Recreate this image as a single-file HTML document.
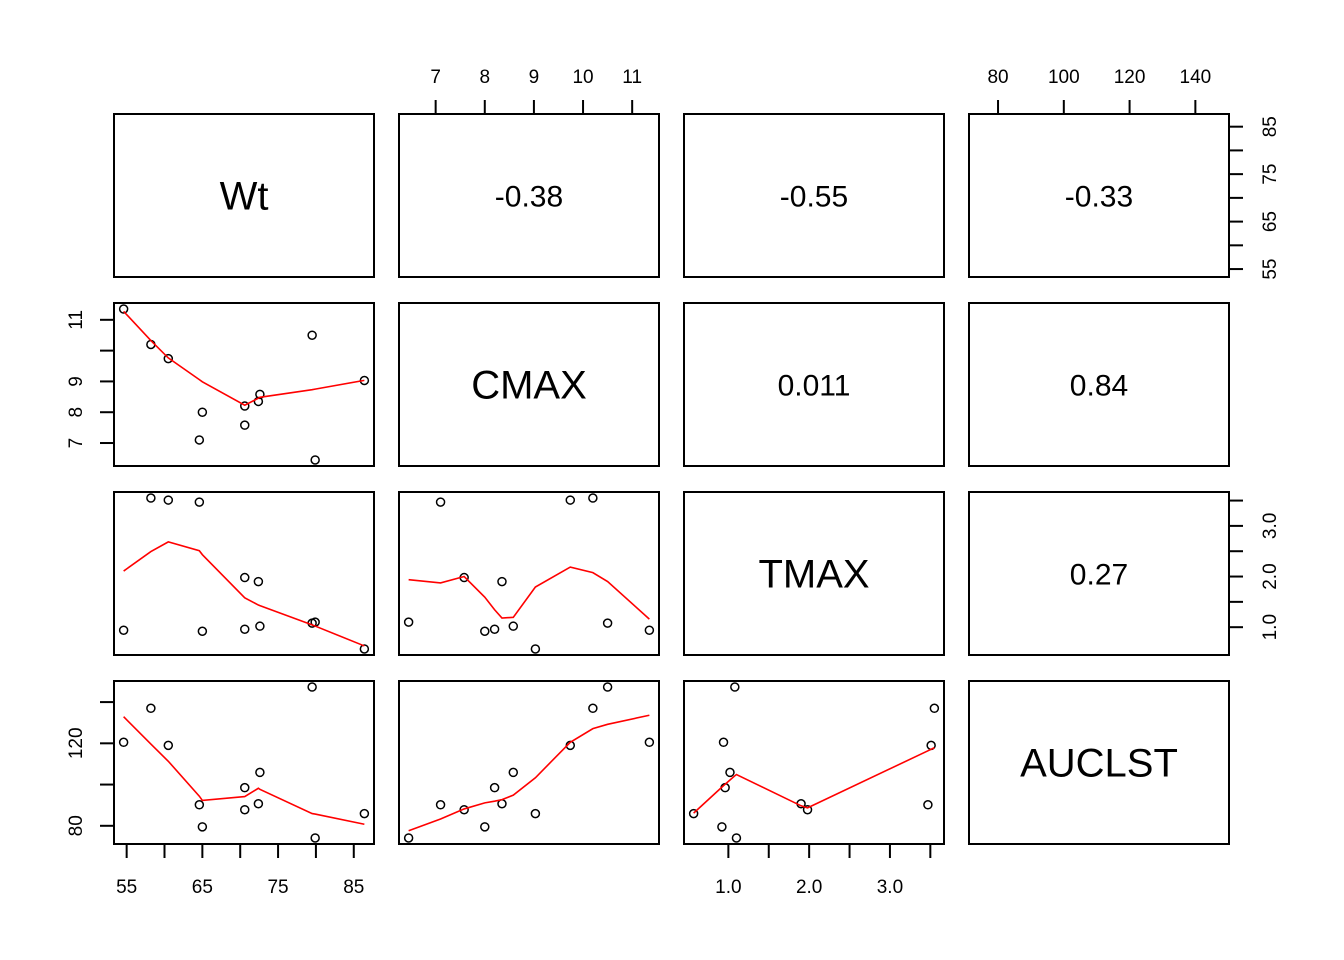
<!DOCTYPE html>
<html><head><meta charset="utf-8"><style>
html,body{margin:0;padding:0;background:#fff}
svg{display:block;font-family:"Liberation Sans",Arial,sans-serif}
</style></head><body>
<svg id="chart" width="1344" height="960" viewBox="0 0 1344 960" xmlns="http://www.w3.org/2000/svg"></svg>
<script>
const varNames = ["Wt","CMAX","TMAX","AUCLST"];
const wt   = [54.6, 58.2, 60.5, 64.6, 65.0, 70.6, 70.6, 72.4, 72.6, 79.5, 79.9, 86.4];
const cmax = [11.35,10.2, 9.74, 7.1,  8.0,  7.58, 8.2,  8.35, 8.58, 10.5, 6.45, 9.03];
const tmax = [0.94, 3.55, 3.51, 3.47, 0.92, 1.98, 0.96, 1.9,  1.02, 1.08, 1.1,  0.57];
const auc  = [120.5,137,  119,  90.2, 79.5, 87.8, 98.5, 90.7, 105.9,147.3,74.1, 85.9];
const corrLabels = [["","-0.38","-0.55","-0.33"],["","","0.011","0.84"],["","","","0.27"]];
const ticksWt = [55,60,65,70,75,80,85];
const ticksCmax = [7,8,9,10,11];
const ticksTmax = [1.0,1.5,2.0,2.5,3.0,3.5];
const ticksAuc = [80,100,120,140];
const labelsWt = ["55","65","75","85"];
const labelsCmax = ["7","8","9","10","11"];
const labelsCmaxLeft = ["7","8","9","11"];
const labelsTmax = ["1.0","2.0","3.0"];
const labelsAuc = ["80","100","120","140"];
const labelsAucLeft = ["80","120"];

const data=[wt,cmax,tmax,auc];
const ticks=[ticksWt,ticksCmax,ticksTmax,ticksAuc];
const colX=[114,399,684,969], rowY=[114,303,492,681], PW=260, PH=163;
const NS="http://www.w3.org/2000/svg";
const svg=document.getElementById('chart');
function mk(t,a,p){const e=document.createElementNS(NS,t);for(const k in a)e.setAttribute(k,a[k]);(p||svg).appendChild(e);return e;}
function rng(v){const mn=Math.min(...v),mx=Math.max(...v),r=mx-mn;return [mn-0.04*r,mx+0.04*r];}
const ranges=data.map(rng);
function sx(j,v){const [a,b]=ranges[j];return colX[j]+(v-a)/(b-a)*PW;}
function sy(i,v){const [a,b]=ranges[i];return rowY[i]+PH-(v-a)/(b-a)*PH;}

function lowess(x,y,f,iter){
  const n=x.length,idx=[...x.keys()].sort((a,b)=>x[a]-x[b]);
  const xs=idx.map(i=>x[i]),ys=idx.map(i=>y[i]);
  const ns=Math.max(Math.min(Math.round(f*n),n),2);
  let rw=new Array(n).fill(1),fit=new Array(n);
  for(let it=0;it<=iter;it++){
    for(let i=0;i<n;i++){
      const d=xs.map(v=>Math.abs(v-xs[i])).slice().sort((a,b)=>a-b);
      let h=Math.max(d[ns-1],1e-12);
      let sw=0,swx=0,w=[];
      for(let k=0;k<n;k++){const r=Math.abs(xs[k]-xs[i]);let wk=0;
        if(r<=0.999*h){wk=r<=0.001*h?1:Math.pow(1-Math.pow(r/h,3),3);} wk*=rw[k];w.push(wk);sw+=wk;}
      if(sw<=0){fit[i]=ys[i];continue;}
      for(let k=0;k<n;k++){w[k]/=sw;swx+=w[k]*xs[k];}
      let c=0;for(let k=0;k<n;k++)c+=w[k]*(xs[k]-swx)**2;
      let val=0;
      for(let k=0;k<n;k++){let wk=w[k];if(Math.sqrt(c)>0.001*(xs[n-1]-xs[0]))wk*=1+(xs[i]-swx)*(xs[k]-swx)/c;val+=wk*ys[k];}
      fit[i]=val;
    }
    if(it===iter)break;
    const res=ys.map((v,k)=>v-fit[k]),ar=res.map(Math.abs).sort((a,b)=>a-b);
    const m=(ar[Math.floor((n-1)/2)]+ar[Math.ceil((n-1)/2)])/2,cm=6*m;
    if(cm<1e-10)break;
    rw=res.map(r=>{const u=Math.abs(r)/cm;return u<1?(1-u*u)**2:0;});
  }
  return xs.map((v,k)=>[v,fit[k]]);
}

for(let i=0;i<4;i++)for(let j=0;j<4;j++){
  const g=mk('g',{});
  
  
  const x0=colX[j],y0=rowY[i],cx=x0+PW/2,cy=y0+PH/2;
  if(i===j){
    const t=mk('text',{x:cx,y:cy+14,'text-anchor':'middle','font-size':40},g);t.textContent=varNames[i];
    
    
  } else if(i<j){
    const t=mk('text',{x:cx,y:cy+11,'text-anchor':'middle','font-size':30},g);t.textContent=corrLabels[i][j];
    
    
  } else {
    const X=data[j],Y=data[i];
    for(let k=0;k<X.length;k++){
      const c=mk('circle',{cx:sx(j,X[k]),cy:sy(i,Y[k]),r:4,fill:'none',stroke:'#000','stroke-width':1.5},g);
      
      
    }
    const lw=lowess(X,Y,2/3,3);
    const pl=mk('polyline',{points:lw.map(p=>sx(j,p[0])+','+sy(i,p[1])).join(' '),fill:'none',stroke:'#f00','stroke-width':1.6},g);
    
    
  }
  const fr=mk('rect',{x:x0,y:y0,width:PW,height:PH,fill:'none',stroke:'#000','stroke-width':2},g);
  
  
}

function axisH(j,yLine,dir,labels){
  const g=mk('g',{});
  
  
  ticks[j].forEach(v=>mk('line',{x1:sx(j,v),x2:sx(j,v),y1:yLine,y2:yLine+dir*13,stroke:'#000','stroke-width':2},g));
  labels.forEach(l=>{const e=mk('text',{x:sx(j,parseFloat(l)),y:dir>0?yLine+48:yLine-30,'text-anchor':'middle','font-size':19},g);e.textContent=l;});
}
function axisV(i,xLine,dir,labels){
  const g=mk('g',{});
  
  
  ticks[i].forEach(v=>mk('line',{y1:sy(i,v),y2:sy(i,v),x1:xLine,x2:xLine+dir*13,stroke:'#000','stroke-width':2},g));
  labels.forEach(l=>{const y=sy(i,parseFloat(l)),x=dir<0?xLine-31:xLine+46;
    const e=mk('text',{x:x,y:y,'text-anchor':'middle','font-size':19,transform:`rotate(-90 ${x} ${y})`},g);e.textContent=l;});
}
axisH(0,rowY[3]+PH+1,1,labelsWt);
axisH(1,rowY[0]-1,-1,labelsCmax);
axisH(2,rowY[3]+PH+1,1,labelsTmax);
axisH(3,rowY[0]-1,-1,labelsAuc);
axisV(0,colX[3]+PW+1,1,labelsWt);
axisV(1,colX[0]-1,-1,labelsCmaxLeft);
axisV(2,colX[3]+PW+1,1,labelsTmax);
axisV(3,colX[0]-1,-1,labelsAucLeft);
</script>
</body></html>
